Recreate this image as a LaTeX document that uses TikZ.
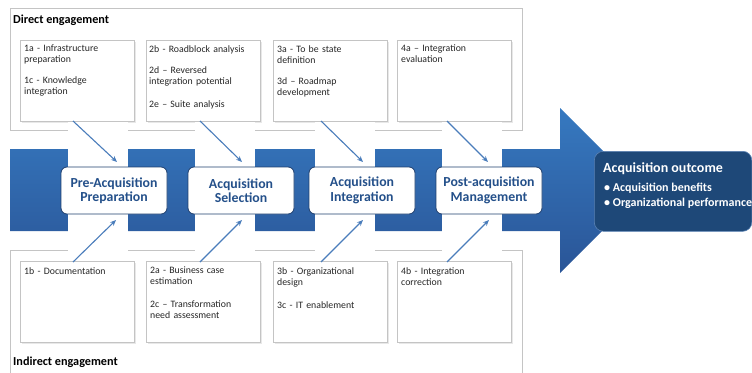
\documentclass[tikz,border=0pt]{standalone}
\usepackage{fontspec}
\setmainfont{Carlito}
\usetikzlibrary{arrows.meta,shadows,calc}
\definecolor{bandtop}{HTML}{3679C0}
\definecolor{bandbot}{HTML}{2A5597}
\definecolor{proctext}{HTML}{24508A}
\definecolor{procline}{HTML}{1F3F6E}
\definecolor{outfill}{HTML}{1E4878}
\definecolor{outline}{HTML}{5A82B4}
\definecolor{connc}{HTML}{4A7DBB}
\definecolor{boxline}{HTML}{C4C4C4}
\tikzset{
  outerbox/.style={draw=boxline, line width=0.9pt, fill=white,
    drop shadow={shadow xshift=1.2pt, shadow yshift=-1.2pt, opacity=0.18}},
  ibox/.style={draw=boxline, line width=0.9pt, fill=white, anchor=north west,
    minimum width=114pt, minimum height=81pt, inner sep=0pt,
    drop shadow={shadow xshift=1.2pt, shadow yshift=-1.2pt, opacity=0.18}},
  itext/.style={anchor=north west, font=\fontsize{9.8}{11}\selectfont,
    text=black!85, align=left, inner sep=0pt, text width=110pt},
  procbox/.style={draw=procline, line width=0.8pt, fill=white,
    rounded corners=6pt, minimum width=106pt, minimum height=47pt,
    align=center, text=proctext, inner sep=0pt,
    font=\fontsize{13.8}{14.5}\selectfont\bfseries},
  conn/.style={draw=connc, line width=1.1pt,
    -{Stealth[length=6pt,width=5pt]}},
  label/.style={anchor=west, font=\fontsize{12.2}{13}\selectfont\bfseries,
    text=black, inner sep=0pt}
}
\begin{document}
\begin{tikzpicture}[x=1pt,y=-1pt]
\useasboundingbox (0,0) rectangle (752,372);
\clip (0,0) rectangle (752,372);
% outer engagement boxes
\draw[outerbox] (10,8) rectangle (522,130);
\draw[outerbox] (10,250) rectangle (522,390);
\node[label] (dir) at (13,20) {Direct engagement};
\node[label] (ind) at (13,362) {Indirect engagement};
% inner boxes top
\node[ibox] (t1) at (20,40) {};
\node[ibox] (t2) at (146,40) {};
\node[ibox] (t3) at (273,40) {};
\node[ibox] (t4) at (397,40) {};
\node[itext] (tt1) at ($(t1.north west)+(4,5)$) {1a - Infrastructure\\preparation\\[10pt]1c - Knowledge\\integration};
\node[itext] (tt2) at ($(t2.north west)+(3,5)$) {2b - Roadblock analysis\\[10pt]2d -- Reversed\\integration potential\\[12pt]2e -- Suite analysis};
\node[itext] (tt3) at ($(t3.north west)+(4,5)$) {3a - To be state\\definition\\[10pt]3d -- Roadmap\\development};
\node[itext] (tt4) at ($(t4.north west)+(4,5)$) {4a -- Integration\\evaluation};
% inner boxes bottom
\node[ibox] (b1) at (20,261) {};
\node[ibox] (b2) at (146,261) {};
\node[ibox] (b3) at (273,261) {};
\node[ibox] (b4) at (397,261) {};
\node[itext] (bt1) at ($(b1.north west)+(4,6)$) {1b - Documentation};
\node[itext] (bt2) at ($(b2.north west)+(4,6)$) {2a - Business case\\estimation\\[12pt]2c -- Transformation\\need assessment};
\node[itext] (bt3) at ($(b3.north west)+(4,6)$) {3b - Organizational\\design\\[12pt]3c - IT enablement};
\node[itext] (bt4) at ($(b4.north west)+(4,6)$) {4b - Integration\\correction};
% big arrow band
\shade[top color=bandtop, bottom color=bandbot]
  (10,149) -- (560,149) -- (560,108) -- (642.5,190.5) -- (560,273) -- (560,231) -- (10,231) -- cycle;
% white columns
\foreach \xl in {68,195,315,442}{
  \fill[white] (\xl,122) rectangle ++(60,46);
  \fill[white] (\xl,213) rectangle ++(60,47.5);
}
% process boxes
\node[procbox] (p1) at (114,190.5) {Pre-Acquisition\\Preparation};
\node[procbox] (p2) at (241,190.5) {Acquisition\\Selection};
\node[procbox] (p3) at (362,190.5) {Acquisition\\Integration};
\node[procbox] (p4) at (489,190.5) {Post-acquisition\\Management};
% outcome box
\node[draw=outline, line width=0.6pt, fill=outfill, rounded corners=9pt,
  anchor=north west, minimum width=157.5pt, minimum height=80pt, inner sep=0pt] (out) at (594,151) {};
\node[anchor=north west, inner sep=0pt, text=white, align=left,
  font=\fontsize{14}{15}\selectfont\bfseries] (outt) at (603,162) {Acquisition outcome};
\node[anchor=north west, inner sep=0pt, text=white, align=left,
  font=\fontsize{12}{15}\selectfont\bfseries] (outb) at (604,182.5) {\textbullet\ Acquisition benefits\\\textbullet\ Organizational performance};
% connectors
\coordinate (a1s) at (73,121); \coordinate (a1e) at (117,162);
\coordinate (a2s) at (200,121); \coordinate (a2e) at (242,162);
\coordinate (a3s) at (321,121); \coordinate (a3e) at (363,162);
\coordinate (a4s) at (447,121); \coordinate (a4e) at (488,162);
\coordinate (c1s) at (73,262); \coordinate (c1e) at (116,220);
\coordinate (c2s) at (200,262); \coordinate (c2e) at (242,220);
\coordinate (c3s) at (321,262); \coordinate (c3e) at (363,220);
\coordinate (c4s) at (447,262); \coordinate (c4e) at (489,220);
\draw[conn] (a1s) -- (a1e);
\draw[conn] (a2s) -- (a2e);
\draw[conn] (a3s) -- (a3e);
\draw[conn] (a4s) -- (a4e);
\draw[conn] (c1s) -- (c1e);
\draw[conn] (c2s) -- (c2e);
\draw[conn] (c3s) -- (c3e);
\draw[conn] (c4s) -- (c4e);
\end{tikzpicture}
\end{document}
